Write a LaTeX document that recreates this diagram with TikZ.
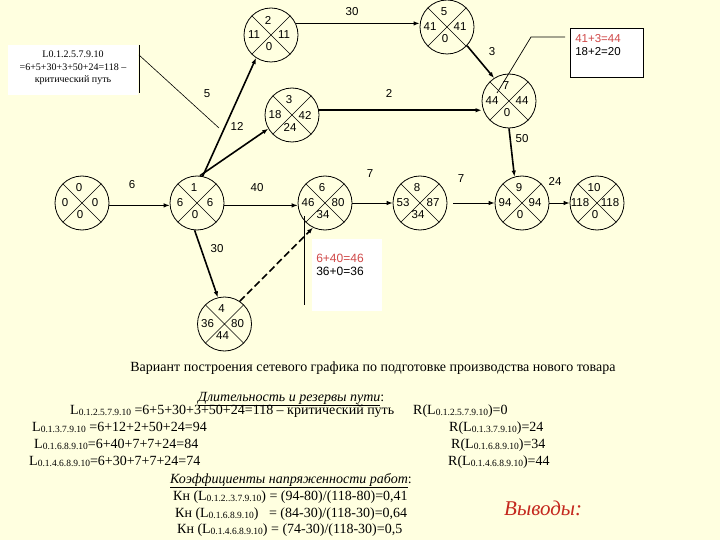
\documentclass[tikz,border=0pt]{standalone}
\usepackage{fontspec}
\setmainfont{Liberation Serif}
\newfontfamily\lsans{Liberation Sans}
\usetikzlibrary{arrows.meta}
\definecolor{bgy}{RGB}{255,255,224}
\definecolor{redt}{RGB}{208,72,72}
\definecolor{redv}{RGB}{196,40,30}
\newcommand\Lsub[1]{L\raisebox{-1.2pt}{\fontsize{9.5}{9.5}\selectfont #1}}
\newcommand\netnode[8]{%
  \node[ev] (#1) at (#2,#3) {};
  \draw[line width=0.6pt] (#1.45) -- (#1.225) (#1.135) -- (#1.315);
  \node[lab] (#1t) at ([shift={(-3,-15)}]#1.center) {#4};
  \node[lab] (#1l) at ([shift={(-17,0)}]#1.center) {#5};
  \node[lab] (#1r) at ([shift={(13,0)}]#1.center) {#6};
  \node[lab] (#1b) at ([shift={(-2,12)}]#1.center) {#7};
}
\begin{document}
\begin{tikzpicture}[x=1pt,y=-1pt,
  ev/.style={circle,draw,minimum size=54pt,inner sep=0pt,line width=0.8pt},
  lab/.style={font=\lsans\fontsize{11.5}{12}\selectfont,inner sep=0pt},
  arr/.style={-{Latex[length=6pt,width=4.5pt]},line width=0.9pt},
  arrT/.style={arr,line width=1.6pt},
  arrTT/.style={arr,line width=2.2pt},
  bt/.style={font=\fontsize{14}{15}\selectfont,inner sep=0pt,anchor=base west},
  ct/.style={font=\lsans\fontsize{12}{12}\selectfont,inner sep=0pt}]
\useasboundingbox (0,0) rectangle (720,540);
\fill[bgy] (0,0) rectangle (720,540);

% callout boxes (background)
\node[fill=white,minimum width=130pt,minimum height=50pt,inner sep=0pt] (lbox) at (73,70) {};
\node[fill=white,minimum width=70pt,minimum height=72pt,inner sep=0pt] (mbox) at (347,275) {};
\node[draw,fill=white,minimum width=73pt,minimum height=49pt,inner sep=0pt,line width=0.8pt] (rbox) at (606.5,52.5) {};

% network nodes
\netnode{n0}{82}{203}{0}{0}{0}{0}{}
\netnode{n1}{197}{203}{1}{6}{6}{0}{}
\netnode{n2}{271}{35}{2}{11}{11}{0}{}
\netnode{n3}{292}{115}{3}{18}{42}{24}{}
\netnode{n4}{224.5}{324}{4}{36}{80}{44}{}
\netnode{n5}{447}{27}{5}{41}{41}{0}{}
\netnode{n6}{325}{203}{6}{46}{80}{34}{}
\netnode{n7}{509}{101}{7}{44}{44}{0}{}
\netnode{n8}{420}{203}{8}{53}{87}{34}{}
\netnode{n9}{522}{203}{9}{94}{94}{0}{}
\netnode{n10}{597}{203}{10}{118}{118}{0}{}

% connectors
\draw[arr] (n0.355) -- (n0.355 -| n1.west);
\draw[arr] (n1.355) -- (n1.355 -| n6.west);
\draw[arr] (n6.east) -- (n8.west);
\draw[arr] ([xshift=6pt]n8.east) -- (n9.west);
\draw[arr] (n9.east) -- (n10.west);
\draw[arrT] (n1.265) -- (n4.104);
\draw[arrT,dash pattern=on 7pt off 3.5pt] (n4.56) -- (n6.244);
\draw[arrT] (n1.78) -- (n2.237);
\draw[arrT] (n1.84) -- (n3.210);
\draw[arr,line width=1.2pt] (n2.25) -- (n2.25 -| n5.west);
\draw[arrTT] (n3.10) -- (n3.10 -| n7.west);
\draw[arrT] (n5.317) -- (n7.123);
\draw[arrT] (n7.south) -- (n9.106);

% connector labels
\node[lab] (w01) at (132,185) {6};
\node[lab] (w16) at (257,188) {40};
\node[lab] (w14) at (217,249) {30};
\node[lab] (w68) at (370,174) {7};
\node[lab] (w89) at (461,179) {7};
\node[lab] (w910) at (555,181) {24};
\node[lab] (w79) at (522,139) {50};
\node[lab] (w25) at (352,12) {30};
\node[lab] (w12) at (207,94) {5};
\node[lab] (w13) at (237,126) {12};
\node[lab] (w37) at (389,93) {2};
\node[lab] (w57) at (492,52) {3};

% left callout
\coordinate (cl1) at (139,45);
\coordinate (cl2) at (139,93);
\coordinate (cl3) at (139,55);
\coordinate (cl4) at (219,128);
\draw[line width=0.7pt] (cl1) -- (cl2);
\draw[line width=0.6pt] (cl3) -- (cl4);
\node[font=\fontsize{10}{12.5}\selectfont,align=center,inner sep=0pt] (ltext) at (73,68)
  {L0.1.2.5.7.9.10\\=6+5+30+3+50+24=118 –\\критический путь};

% middle callout
\coordinate (cm1) at (304,216);
\coordinate (cm2) at (304,305);
\draw[line width=0.8pt] (cm1) -- (cm2);
\node[ct,text=redt] (mt1) at (340,258) {6+40=46};
\node[ct] (mt2) at (340,271) {36+0=36};

% right callout
\coordinate (cr1) at (565,37);
\coordinate (cr2) at (531,37);
\coordinate (cr3) at (497,93);
\draw[line width=0.7pt] (cr1) -- (cr2) -- (cr3);
\node[lab,text=redt] (rt1) at (598,39) {41+3=44};
\node[lab] (rt2) at (598,52) {18+2=20};

% bottom text
\node[bt,anchor=base] (title) at (373,371) {Вариант построения сетевого графика по подготовке производства нового товара};
\node[bt] (h1) at (198,401) {\underline{\textit{Длительность и резервы пути}}:};
\node[bt] (l1) at (70,414) {\Lsub{0.1.2.5.7.9.10} =6+5+30+3+50+24=118 – критический путь};
\node[bt] (r1) at (413,414) {R(\Lsub{0.1.2.5.7.9.10})=0};
\node[bt] (l2) at (32,431) {\Lsub{0.1.3.7.9.10} =6+12+2+50+24=94};
\node[bt] (r2) at (449,431) {R(\Lsub{0.1.3.7.9.10})=24};
\node[bt] (l3) at (34,448) {\Lsub{0.1.6.8.9.10}=6+40+7+7+24=84};
\node[bt] (r3) at (451,448) {R(\Lsub{0.1.6.8.9.10})=34};
\node[bt] (l4) at (29,465) {\Lsub{0.1.4.6.8.9.10}=6+30+7+7+24=74};
\node[bt] (r4) at (448,465) {R(\Lsub{0.1.4.6.8.9.10})=44};
\node[bt] (h2) at (170,483) {\underline{\textit{Коэффициенты напряженности работ}}:};
\node[bt] (k1) at (173,500) {Кн (\Lsub{0.1.2..3.7.9.10}) = (94-80)/(118-80)=0,41};
\node[bt] (k2) at (175,517) {Кн (\Lsub{0.1.6.8.9.10})\ \ \ = (84-30)/(118-30)=0,64};
\node[bt] (k3) at (177,533) {Кн (\Lsub{0.1.4.6.8.9.10}) = (74-30)/(118-30)=0,5};
\node[font=\fontsize{21}{21}\selectfont\itshape,text=redv,inner sep=0pt,anchor=base west] (vyv) at (504,515) {Выводы:};
\end{tikzpicture}
\end{document}
